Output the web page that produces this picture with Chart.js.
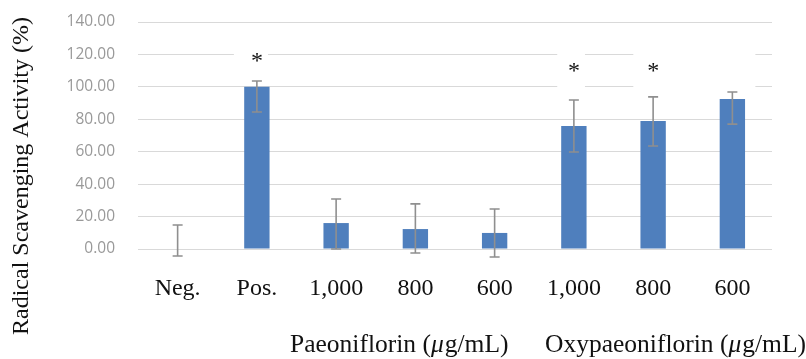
<!DOCTYPE html>
<html>
<head>
<meta charset="utf-8">
<script src="https://cdn.jsdelivr.net/npm/chart.js@4.4.1/dist/chart.umd.min.js"></script>
<style>
  html, body { margin: 0; padding: 0; background: #fff; }
  #wrap { width: 806px; height: 359px; position: relative; }
</style>
</head>
<body>
<div id="wrap"><canvas id="c" width="806" height="359"></canvas></div>
<script>
// ---- data ----
const categories = ['Neg.', 'Pos.', '1,000', '800', '600', '1,000', '800', '600'];
const activity   = [0, 100, 16, 12.3, 9.9, 75.9, 79, 92.5];
const errHigh    = [14.8, 103.6, 30.8, 27.8, 24.7, 91.9, 93.8, 96.8];
const errLow     = [-4.3, 84.5, 0, -2.5, -4.9, 59.8, 63.5, 77];
const significance = ['', '*', '', '', '', '*', '*', ''];
const starLevel  = [null, 118.5, null, null, null, 112.3, 112.3, null];
const yTicks     = [0, 20, 40, 60, 80, 100, 120, 140];
const yTitle = 'Radical Scavenging Activity (%)';
const groupLabels = [
  { parts: ['Paeoniflorin (', 'μ', 'g/mL)'] },
  { parts: ['Oxypaeoniflorin (', 'μ', 'g/mL)'] }
];

const SERIF = '"Liberation Serif", "Times New Roman", serif';

const decorPlugin = {
  id: 'decor',
  beforeDatasetsDraw(chart) {
    const { ctx, scales: { x, y } } = chart;
    // white boxes behind the significance marks (cut the grid lines as in the source)
    const boxes = [
      { i0: 0.71, i1: 1.14, v0: 111, v1: 127 },
      { i0: 4.79, i1: 5.14, v0: 98, v1: 126 },
      { i0: 5.75, i1: 7.29, v0: 98, v1: 126 }
    ];
    const step = x.getPixelForValue(1) - x.getPixelForValue(0);
    const x0p = x.getPixelForValue(0);
    ctx.save();
    ctx.fillStyle = '#ffffff';
    boxes.forEach(b => {
      const xa = x0p + b.i0 * step, xb = x0p + b.i1 * step;
      const ya = y.getPixelForValue(b.v1), yb = y.getPixelForValue(b.v0);
      ctx.fillRect(xa, ya, xb - xa, yb - ya);
    });
    ctx.restore();
  },
  afterDatasetsDraw(chart) {
    const { ctx, scales: { x, y } } = chart;
    ctx.save();
    // error bars
    ctx.strokeStyle = '#8f8f8f';
    ctx.lineWidth = 1.6;
    activity.forEach((v, i) => {
      const px = x.getPixelForValue(i);
      const yt = y.getPixelForValue(errHigh[i]);
      const yb = y.getPixelForValue(errLow[i]);
      ctx.beginPath();
      ctx.moveTo(px, yt); ctx.lineTo(px, yb);
      ctx.moveTo(px - 5, yt); ctx.lineTo(px + 5, yt);
      ctx.moveTo(px - 5, yb); ctx.lineTo(px + 5, yb);
      ctx.stroke();
    });
    // significance marks
    ctx.fillStyle = '#111';
    ctx.font = '24px ' + SERIF;
    ctx.textAlign = 'center';
    ctx.textBaseline = 'middle';
    significance.forEach((s, i) => {
      if (!s) return;
      ctx.fillText(s, x.getPixelForValue(i), y.getPixelForValue(starLevel[i]) + 5);
    });
    // y-axis title
    ctx.save();
    ctx.translate(22, 176);
    ctx.rotate(-Math.PI / 2);
    ctx.textAlign = 'center';
    ctx.fillText(yTitle, 0, 0);
    ctx.restore();
    // group labels
    const starts = [290, 545];
    ctx.textAlign = 'left';
    ctx.textBaseline = 'alphabetic';
    groupLabels.forEach((g, k) => {
      let cx = starts[k];
      g.parts.forEach((p, j) => {
        ctx.font = (j === 1 ? 'italic ' : '') + '25.5px ' + SERIF;
        ctx.fillText(p, cx, 352);
        cx += ctx.measureText(p).width + (j === 1 ? 1 : 0);
      });
    });
    ctx.restore();
  }
};

new Chart(document.getElementById('c'), {
  type: 'bar',
  data: {
    labels: categories,
    datasets: [{
      data: activity,
      backgroundColor: '#4f7fbd',
      borderWidth: 0,
      barPercentage: 0.32,
      categoryPercentage: 1.0
    }]
  },
  options: {
    responsive: false,
    animation: false,
    devicePixelRatio: 1,
    layout: { padding: { left: 0, right: 34, top: 22, bottom: 0 } },
    plugins: { legend: { display: false }, tooltip: { enabled: false } },
    scales: {
      x: {
        grid: { display: false, drawTicks: false },
        border: { display: false },
        ticks: {
          color: '#111',
          font: { family: SERIF, size: 24 },
          padding: 25,
          autoSkip: false,
          maxRotation: 0
        },
        afterFit(scale) { scale.height = 110; }
      },
      y: {
        min: 0,
        max: 140,
        afterBuildTicks(scale) { scale.ticks = yTicks.map(v => ({ value: v })); },
        grid: { color: '#d9d9d9', lineWidth: 1, drawTicks: false },
        border: { display: false },
        ticks: {
          color: '#999999',
          font: { family: '"Open Sans", sans-serif', size: 15.5 },
          padding: 23,
          callback: v => Number(v).toFixed(2)
        },
        afterFit(scale) { scale.width = 138; scale.paddingTop = 0; scale.paddingBottom = 0; }
      }
    }
  },
  plugins: [decorPlugin]
});
</script>
</body>
</html>
